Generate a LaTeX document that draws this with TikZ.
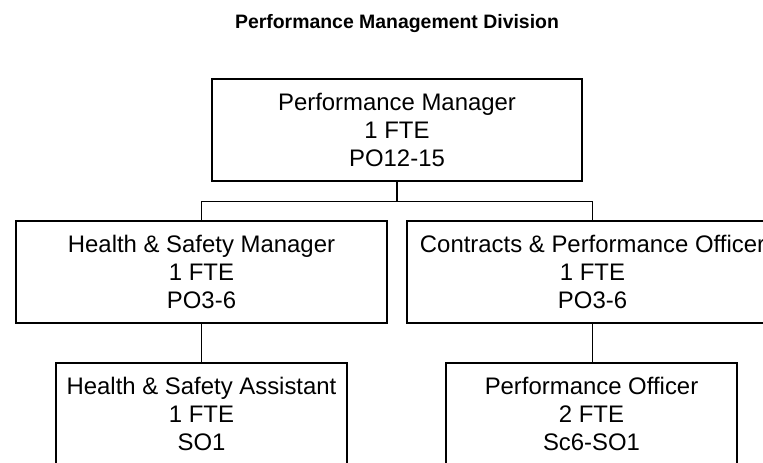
\documentclass[tikz,border=0pt]{standalone}
\usepackage{fontspec}
\setmainfont{Liberation Sans}
\begin{document}
\begin{tikzpicture}[x=1bp,y=-1bp,
  post/.style={draw=black, line width=1.2bp, minimum height=102bp, inner sep=2bp,
    align=center, font=\fontsize{24}{28.3}\selectfont},
  wide/.style={post, minimum width=371bp},
  narrow/.style={post, minimum width=291bp},
  link/.style={draw=black, line width=1.2bp}]
\useasboundingbox (0,0) rectangle (763,463);
\clip (0,0) rectangle (763,463);
\fill[white] (0,0) rectangle (763,463);
\node[font=\fontsize{19.5}{22}\selectfont\bfseries, anchor=base] (title) at (397,29) {Performance Management Division};
\node[wide, minimum width=370bp] (pm) at (397,130) {Performance Manager\\1 FTE\\PO12-15};
\node[wide] (hsm) at (201.5,272) {Health \& Safety Manager\\1 FTE\\PO3-6};
\node[wide] (cpo) at (592.5,272) {Contracts \& Performance Officer\\1 FTE\\PO3-6};
\node[narrow] (hsa) at (201.5,414) {Health \& Safety Assistant\\1 FTE\\SO1};
\node[narrow] (po) at (591.5,414) {Performance Officer\\2 FTE\\Sc6-SO1};
\draw[link] (pm.south) -- ++(0,20) coordinate (j);
\draw[link] (j) -| (hsm.north);
\draw[link] (j) -| (cpo.north);
\draw[link] (hsm.south) -- (hsa.north);
\draw[link] (cpo.south) -- (cpo.south |- po.north);
\end{tikzpicture}
\end{document}
